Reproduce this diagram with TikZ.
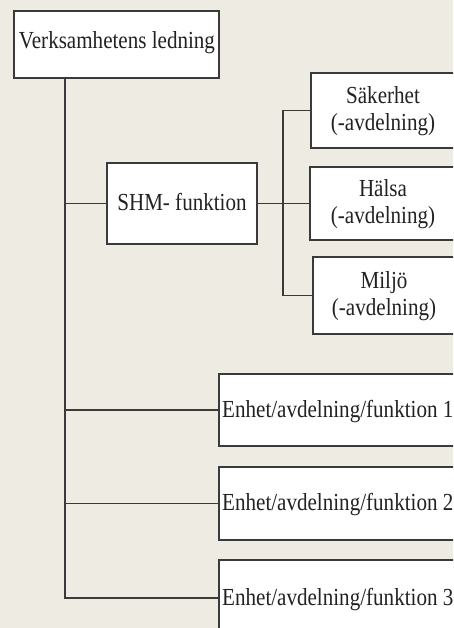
\documentclass[tikz,border=0pt]{standalone}
\usepackage{fontspec}
\setmainfont{Liberation Serif}[FakeStretch=0.86]
\definecolor{paper}{RGB}{238,235,226}
\definecolor{ink}{RGB}{34,34,34}
\definecolor{rule}{RGB}{58,58,58}
\begin{document}
\begin{tikzpicture}[x=1pt,y=-1pt,
  box/.style={draw=rule, line width=1.8pt, fill=white, rectangle, inner sep=0pt},
  lbl/.style={text=ink, font=\fontsize{24.5}{27}\selectfont, inner sep=0pt, align=center},
  conn/.style={draw=rule, line width=1.5pt}]
  \useasboundingbox (0,0) rectangle (453,628);
  \fill[paper] (0,0) rectangle (453,628);
  \clip (0,0) rectangle (453,628);

  % boxes
  \node[box, minimum width=205pt, minimum height=67pt] (top) at (116.5,44.5) {};
  \node[box, minimum width=150pt, minimum height=81pt] (shm) at (182,203.5) {};
  \node[box, minimum width=144pt, minimum height=75pt] (sak) at (383,110.5) {};
  \node[box, minimum width=145pt, minimum height=73pt] (hal) at (382.5,203.5) {};
  \node[box, minimum width=142pt, minimum height=77pt] (mil) at (384,295.5) {};
  \node[box, minimum width=240pt, minimum height=72pt] (e1) at (339,410) {};
  \node[box, minimum width=240pt, minimum height=73pt] (e2) at (339,503.5) {};
  \node[box, minimum width=240pt, minimum height=76pt] (e3) at (339,598) {};

  % labels
  \node[lbl, anchor=base] (ttop) at (117,49) {Verksamhetens ledning};
  \node[lbl, anchor=base] (tshm) at (182,211) {SHM- funktion};
  \node[lbl] (tsak) at (383,111) {Säkerhet\\(-avdelning)};
  \node[lbl] (thal) at (383,204) {Hälsa\\(-avdelning)};
  \node[lbl] (tmil) at (384,296) {Miljö\\(-avdelning)};
  \node[lbl, anchor=base west] (te1) at (222,417) {Enhet/avdelning/funktion 1};
  \node[lbl, anchor=base west] (te2) at (222,510.5) {Enhet/avdelning/funktion 2};
  \node[lbl, anchor=base west] (te3) at (222,605) {Enhet/avdelning/funktion 3};

  % trunk from the management box
  \coordinate (tx) at (65,78);
  \draw[conn] (tx) |- (e3.west);
  \draw[conn] (tx |- shm.west) -- (shm.west);
  \draw[conn] (tx |- e1.west) -- (e1.west);
  \draw[conn] (tx |- e2.west) -- (e2.west);

  % bus for the SHM departments
  \coordinate (bx) at (283,0);
  \draw[conn] (shm.east) -- (shm.east -| bx);
  \draw[conn] (bx |- sak.west) -- (bx |- mil.west);
  \draw[conn] (bx |- sak.west) -- (sak.west);
  \draw[conn] (bx |- hal.west) -- (hal.west);
  \draw[conn] (bx |- mil.west) -- (mil.west);
\end{tikzpicture}
\end{document}
